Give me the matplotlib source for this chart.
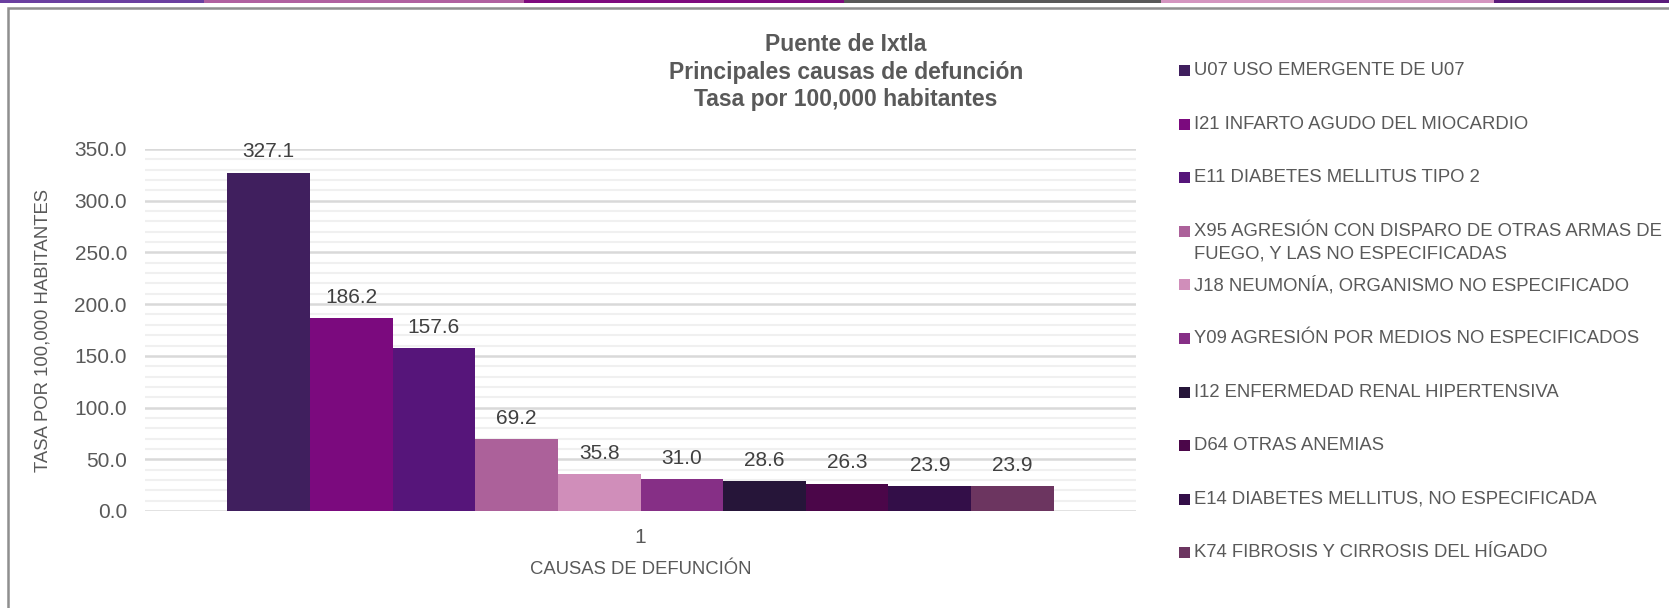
import matplotlib
matplotlib.use('Agg')
import matplotlib.pyplot as plt
from matplotlib.patches import Rectangle

plt.rcParams['font.family'] = ['Liberation Sans', 'DejaVu Sans']

# Data
causes = [
    'U07 USO EMERGENTE DE U07',
    'I21 INFARTO AGUDO DEL MIOCARDIO',
    'E11 DIABETES MELLITUS TIPO 2',
    'X95 AGRESIÓN CON DISPARO DE OTRAS ARMAS DE\nFUEGO, Y LAS NO ESPECIFICADAS',
    'J18 NEUMONÍA, ORGANISMO NO ESPECIFICADO',
    'Y09 AGRESIÓN POR MEDIOS NO ESPECIFICADOS',
    'I12 ENFERMEDAD RENAL HIPERTENSIVA',
    'D64 OTRAS ANEMIAS',
    'E14 DIABETES MELLITUS, NO ESPECIFICADA',
    'K74 FIBROSIS Y CIRROSIS DEL HÍGADO',
]
rates = [327.1, 186.2, 157.6, 69.2, 35.8, 31.0, 28.6, 26.3, 23.9, 23.9]
colors = ['#401F5E', '#7B0A7E', '#56157A', '#AC619A', '#D08EBA',
          '#862F86', '#261539', '#4B0649', '#330E48', '#6C3560']
category_labels = ['1']
y_ticks = [0, 50, 100, 150, 200, 250, 300, 350]

title = 'Puente de Ixtla\nPrincipales causas de defunción\nTasa por 100,000 habitantes'
text_gray = '#595959'

W, H = 1669, 608
fig = plt.figure(figsize=(W / 100, H / 100), dpi=100)

# top colour stripe and chart frame (decoration of the screenshot)
stripe = [(0, 204, '#6B3FA0'), (204, 524, '#B060A0'), (524, 844, '#7E0A7E'),
          (844, 1161, '#595959'), (1161, 1494, '#D495C0'), (1494, 1669, '#5A1A7A')]
for x0, x1, c in stripe:
    fig.patches.append(Rectangle((x0 / W, 1 - 2.5 / H), (x1 - x0) / W, 2.5 / H,
                                 transform=fig.transFigure, color=c, lw=0))
fig.patches.append(Rectangle((7.5 / W, -0.1), 1.2, 1 - 8.5 / H + 0.1,
                             transform=fig.transFigure, fill=False,
                             edgecolor='#8F8F8F', lw=1.8))

# plot area
left, right, top, bottom = 145, 1136, 149, 511
ax = fig.add_axes([left / W, 1 - bottom / H, (right - left) / W, (bottom - top) / H])

n = len(rates)
bar_w = 0.834 / n
for i, (v, c) in enumerate(zip(rates, colors)):
    x = (i - (n - 1) / 2) * bar_w
    ax.bar(x, v, width=bar_w, color=c, lw=0, zorder=3)
    ax.annotate(f'{v:.1f}', (x, v), xytext=(0, 15), textcoords='offset points',
                ha='center', va='center', fontsize=15, color='#404040')

ax.set_xlim(-0.5, 0.5)
ax.set_ylim(0, 350)
ax.set_yticks(y_ticks)
ax.set_yticklabels([f'{t:.1f}' for t in y_ticks], fontsize=15, color=text_gray)
ax.set_yticks(range(0, 351, 10), minor=True)
ax.set_xticks([0])
ax.set_xticklabels(category_labels, fontsize=15, color=text_gray)
ax.tick_params(axis='both', which='both', length=0)
ax.tick_params(axis='y', pad=13)
ax.tick_params(axis='x', pad=12)
ax.grid(axis='y', which='minor', color='#F0F0F0', lw=1.5, zorder=0)
ax.grid(axis='y', which='major', color='#D9D9D9', lw=1.8, zorder=1)
for s in ax.spines.values():
    s.set_visible(False)

ax.set_ylabel('TASA POR 100,000 HABITANTES', fontsize=13.3, color=text_gray)
ax.yaxis.set_label_coords((52 - left) / (right - left), 0.5)
ax.set_xlabel('CAUSAS DE DEFUNCIÓN', fontsize=13.3, color=text_gray, va='center')
ax.xaxis.set_label_coords(0.5, (bottom - 569) / (bottom - top))

fig.text(846 / W, 1 - 72 / H, title, ha='center', va='center', fontsize=16.5,
         fontweight='bold', color=text_gray, linespacing=1.25)

# legend
pitch = 53.6
for i, (lab, c) in enumerate(zip(causes, colors)):
    yc = 70.5 + pitch * i
    fig.patches.append(Rectangle((1179 / W, 1 - (yc + 5.5) / H), 11 / W, 11 / H,
                                 transform=fig.transFigure, color=c, lw=0))
    for k, line in enumerate(lab.split('\n')):
        fig.text(1194 / W, 1 - (yc + 23 * k) / H, line, ha='left', va='center',
                 fontsize=13.3, color=text_gray)

fig.savefig('out.png', dpi=100)
plt.close(fig)
